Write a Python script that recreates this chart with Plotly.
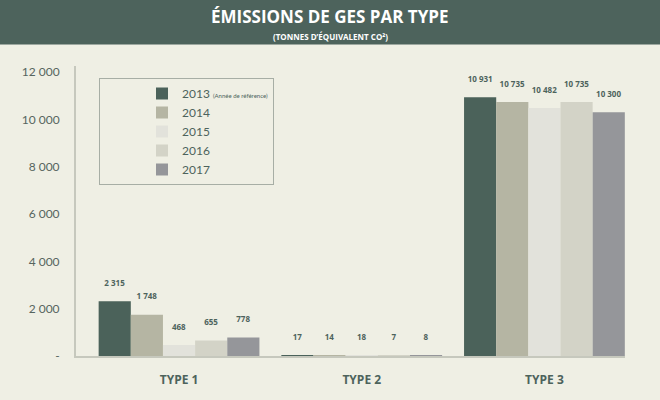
import plotly.graph_objects as go

categories = ["TYPE 1", "TYPE 2", "TYPE 3"]
years = ["2013", "2014", "2015", "2016", "2017"]
values = {
    "2013": [2315, 17, 10931],
    "2014": [1748, 14, 10735],
    "2015": [468, 18, 10482],
    "2016": [655, 7, 10735],
    "2017": [778, 8, 10300],
}
colors = {
    "2013": "#4b625a",
    "2014": "#b5b5a3",
    "2015": "#e2e2db",
    "2016": "#d3d3c7",
    "2017": "#95969a",
}
tick_vals = [0, 2000, 4000, 6000, 8000, 10000, 12000]
tick_text = ["-", "2 000", "4 000", "6 000", "8 000", "10 000", "12 000"]

W, H = 660, 400
ML, MR, MT, MB = 76, 35, 66, 44
PW, PH = W - ML - MR, H - MT - MB
BG = "#efefe4"
GREEN = "#4d635c"


def fmt(v):
    return f"{v:,}".replace(",", " ")


fig = go.Figure()
for y in years:
    name = y
    if y == "2013":
        name = "2013 <span style='font-size:6px'>(Année de référence)</span>"
    fig.add_trace(go.Bar(
        x=categories, y=values[y], name=name,
        marker=dict(color=colors[y], line=dict(width=0)),
        text=[fmt(v) + "<br> " for v in values[y]],
        textposition="outside", cliponaxis=False,
        textfont=dict(family="Open Sans", size=8, color=GREEN, weight="bold"),
    ))


def px_x(p):
    return (p - ML) / PW


def px_y(p):
    return (H - MB - p) / PH


fig.update_layout(
    width=W, height=H,
    margin=dict(l=ML, r=MR, t=MT, b=MB),
    paper_bgcolor=BG, plot_bgcolor=BG,
    barmode="group", bargap=0.12, bargroupgap=0,
    legend=dict(
        x=px_x(99), y=px_y(78), xanchor="left", yanchor="top",
        bgcolor=BG, bordercolor="#a7aea5", borderwidth=1,
        font=dict(family="Lato", size=12, color=GREEN),
        indentation=42, entrywidth=76,
        itemclick=False,
    ),
    xaxis=dict(
        range=[-0.564, 2.441], showgrid=False, showline=True,
        linecolor="#c6c8bd", linewidth=2, ticks="",
        ticklabelstandoff=12,
        tickfont=dict(family="Open Sans", size=12, color=GREEN, weight="bold"),
    ),
    yaxis=dict(
        range=[0, 12254], showgrid=False, showline=True, zeroline=False,
        linecolor="#c6c8bd", linewidth=2, ticks="",
        tickvals=tick_vals, ticktext=tick_text, ticklabelstandoff=12,
        tickfont=dict(family="Lato", size=12, color="#56655f"),
    ),
    shapes=[dict(
        type="rect", xref="paper", yref="paper",
        x0=px_x(0), x1=px_x(W), y0=px_y(44.5), y1=px_y(0),
        fillcolor=GREEN, line=dict(width=0), layer="below",
    )],
    annotations=[
        dict(text="ÉMISSIONS DE GES PAR TYPE", xref="paper", yref="paper",
             x=px_x(W / 2), y=px_y(29), xanchor="center", yanchor="bottom",
             showarrow=False, borderpad=0,
             font=dict(family="Open Sans", size=17, color="white", weight="bold")),
        dict(text="(TONNES D’ÉQUIVALENT CO²)", xref="paper", yref="paper",
             x=px_x(W / 2), y=px_y(29.5), xanchor="center", yanchor="top",
             showarrow=False, borderpad=0,
             font=dict(family="Open Sans", size=8, color="white", weight="bold")),
    ],
)

fig.write_html(
    "out.html",
    config={"displayModeBar": False, "responsive": False},
    post_script="document.body.style.margin='0';document.body.style.background='%s';" % BG,
)
